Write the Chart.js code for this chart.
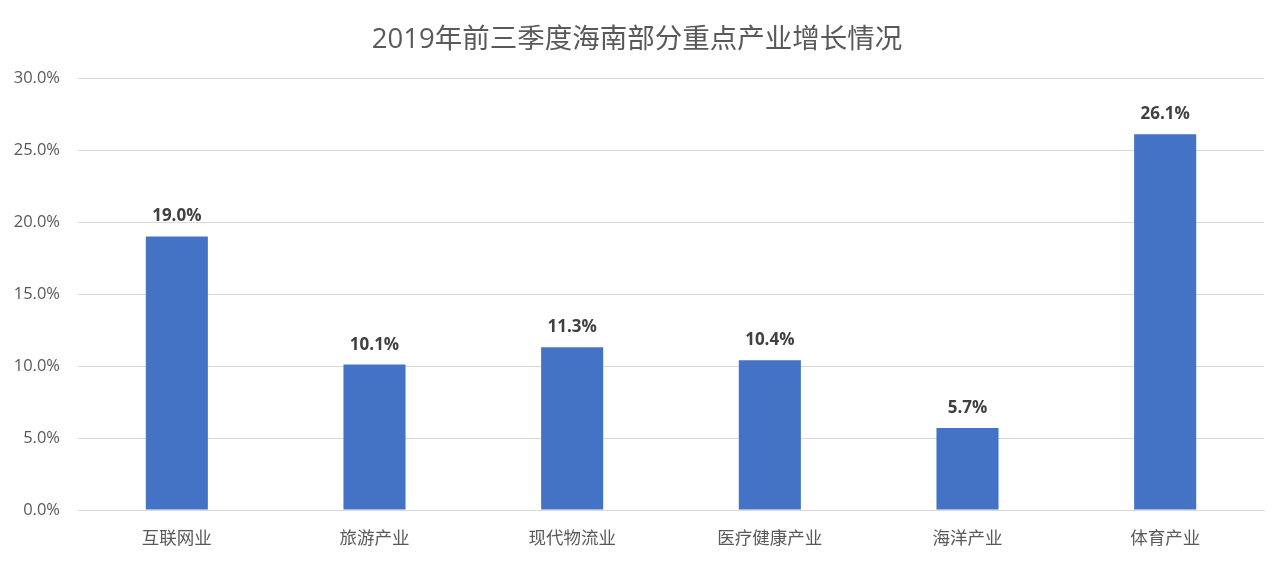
<!DOCTYPE html>
<html>
<head>
<meta charset="utf-8">
<script src="https://cdn.jsdelivr.net/npm/chart.js@4"></script>
<style>
  html, body { margin: 0; padding: 0; background: #fff; }
  #wrap { width: 1280px; height: 561px; }
</style>
</head>
<body>
<div id="wrap"><canvas id="grafico"></canvas></div>
<script>
const categorias = ['互联网业', '旅游产业', '现代物流业', '医疗健康产业', '海洋产业', '体育产业'];
const crescimento = [19.0, 10.1, 11.3, 10.4, 5.7, 26.1];
const yTicks = [0, 5, 10, 15, 20, 25, 30];

const fonte = "'Open Sans', 'Noto Sans CJK SC', sans-serif";

// rótulos em cima das barras
const rotulos = {
  id: 'rotulos',
  afterDatasetsDraw(chart) {
    const ctx = chart.ctx;
    const meta = chart.getDatasetMeta(0);
    ctx.save();
    ctx.font = 'bold 17px ' + fonte;
    ctx.fillStyle = '#404040';
    ctx.textAlign = 'center';
    ctx.textBaseline = 'alphabetic';
    meta.data.forEach((bar, i) => {
      ctx.fillText(crescimento[i].toFixed(1) + '%', bar.x, bar.y - 15);
    });
    ctx.restore();
  }
};

const grafico = new Chart(document.getElementById('grafico').getContext('2d'), {
  type: 'bar',
  data: {
    labels: categorias,
    datasets: [{
      data: crescimento,
      backgroundColor: '#4472C4',
      barPercentage: 0.314,
      categoryPercentage: 1.0
    }]
  },
  options: {
    responsive: true,
    maintainAspectRatio: false,
    animation: false,
    layout: { padding: { left: 10, right: 16, top: 0, bottom: 0 } },
    plugins: {
      legend: { display: false },
      tooltip: { enabled: false },
      title: {
        display: true,
        text: '2019年前三季度海南部分重点产业增长情况',
        color: '#595959',
        font: { family: fonte, size: 27.5, weight: 'normal' },
        padding: { top: 24, bottom: 21 }
      }
    },
    scales: {
      x: {
        grid: { display: false },
        border: { color: '#d9d9d9' },
        ticks: { color: '#595959', font: { family: fonte, size: 17.5 }, padding: 11 }
      },
      y: {
        min: 0,
        max: 30,
        afterBuildTicks(axis) {
          axis.ticks = yTicks.map(v => ({ value: v }));
        },
        afterFit(axis) {
          axis.width = 68;
        },
        grid: { color: '#d9d9d9', drawTicks: false },
        border: { display: false },
        ticks: {
          color: '#595959',
          font: { family: fonte, size: 16.5 },
          padding: 18,
          callback: v => v.toFixed(1) + '%'
        }
      }
    }
  },
  plugins: [rotulos]
});
</script>
</body>
</html>
